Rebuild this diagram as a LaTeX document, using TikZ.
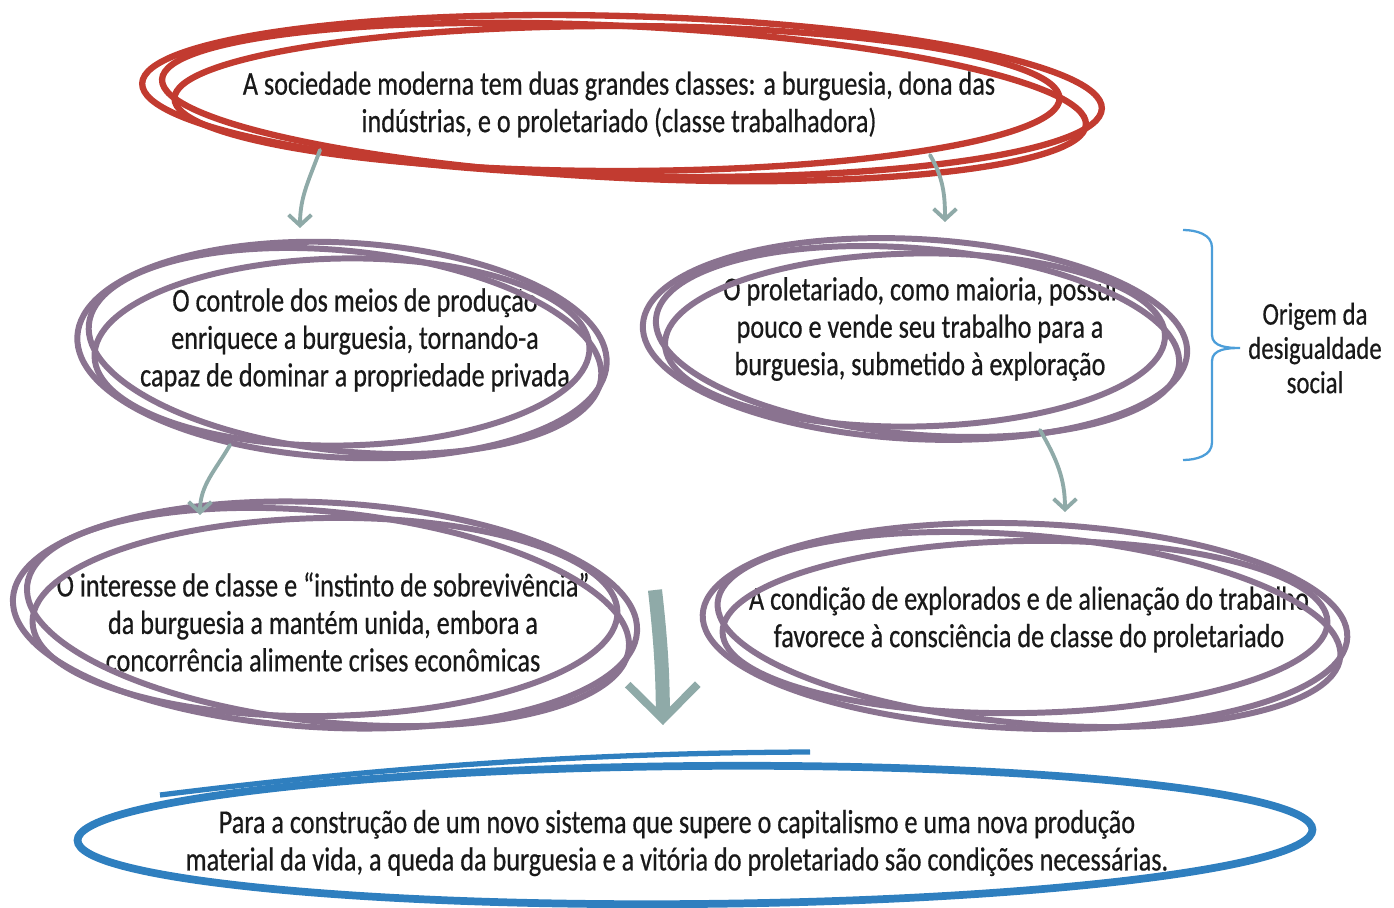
\documentclass[tikz,border=0pt]{standalone}
\usepackage{fontspec}
\setmainfont{Carlito}[FakeStretch=0.785, FakeBold=0.5]
\usetikzlibrary{calc, arrows.meta}
\definecolor{ringred}{HTML}{C23B30}
\definecolor{ringpurple}{HTML}{8A7390}
\definecolor{ringblue}{HTML}{2F7FBF}
\definecolor{flowgray}{HTML}{8FAAA8}
\definecolor{bracecol}{HTML}{4C9ED9}

\begin{document}
\begin{tikzpicture}[
		txt/.style={align=center, font=\fontsize{19}{21.3}\selectfont, text=black!90},
		redring/.style={draw=ringred, line width=3.6pt},
		purpring/.style={draw=ringpurple, line width=3.4pt},
		bluering/.style={draw=ringblue, line width=4.4pt},
		flow/.style={draw=flowgray, line width=2.2pt, line cap=round, -{Straight Barb[length=6pt, width=13pt]}},
		bigflow/.style={draw=flowgray, line width=8pt, -{Straight Barb[length=0.7cm, width=1.4cm, line width=4.5pt]}}
	]
		\useasboundingbox (0,0) rectangle (27.88,-18.16);

		% the bubbles
		\node[txt] (top) at (12.38,-2.09) {A sociedade moderna tem duas grandes classes: a burguesia, dona das\\indústrias, e o proletariado (classe trabalhadora)};
		\node[txt] (ml) at (7.1,-6.8) {O controle dos meios de produção\\enriquece a burguesia, tornando-a\\capaz de dominar a propriedade privada};
		\node[txt] (mr) at (18.4,-6.58) {O proletariado, como maioria, possui\\pouco e vende seu trabalho para a\\burguesia, submetido à exploração};
		\node[txt] (bl) at (6.46,-12.44) {O interesse de classe e “instinto de sobrevivência”\\da burguesia a mantém unida, embora a\\concorrência alimente crises econômicas};
		\node[txt] (br) at (20.58,-12.39) {A condição de explorados e de alienação do trabalho\\favorece à consciência de classe do proletariado};
		\node[txt] (bot) at (13.54,-16.86) {Para a construção de um novo sistema que supere o capitalismo e uma nova produção\\material da vida, a queda da burguesia e a vitória do proletariado são condições necessárias.};
		\node[txt, font=\fontsize{18}{19.5}\selectfont] (origem) at (26.3,-6.96) {Origem da\\desigualdade\\social};

		% hand drawn rings
		\draw[redring] ($(top)+(0.06,0.17)$) ellipse [x radius=9.6, y radius=1.6, rotate=-1.5];
		\draw[redring] ($(top)+(-0.04,0.12)$) ellipse [x radius=8.85, y radius=1.45, rotate=0];
		\draw[redring] ($(top)+(0.1,0.05)$) ellipse [x radius=9.25, y radius=1.52, rotate=-2.8];

		\draw[purpring] ($(ml)+(-0.26,-0.2)$) ellipse [x radius=5.3, y radius=2.15, rotate=-3];
		\draw[purpring] ($(ml)+(-0.26,-0.24)$) ellipse [x radius=4.95, y radius=1.87, rotate=1];
		\draw[purpring] ($(ml)+(-0.2,-0.22)$) ellipse [x radius=5.15, y radius=2.0, rotate=-6];

		\draw[purpring] ($(mr)+(-0.1,-0.2)$) ellipse [x radius=5.45, y radius=2.0, rotate=-3];
		\draw[purpring] ($(mr)+(-0.1,-0.22)$) ellipse [x radius=5.0, y radius=1.73, rotate=1];
		\draw[purpring] ($(mr)+(-0.05,-0.25)$) ellipse [x radius=5.25, y radius=1.86, rotate=-5];

		\draw[purpring] ($(bl)+(0.04,0.14)$) ellipse [x radius=6.25, y radius=2.25, rotate=-3];
		\draw[purpring] ($(bl)+(0.04,0.1)$) ellipse [x radius=5.85, y radius=1.98, rotate=1];
		\draw[purpring] ($(bl)+(0.1,0.1)$) ellipse [x radius=6.05, y radius=2.1, rotate=-6];

		\draw[purpring] ($(br)+(-0.08,-0.13)$) ellipse [x radius=6.45, y radius=2.05, rotate=-2];
		\draw[purpring] ($(br)+(-0.08,-0.15)$) ellipse [x radius=6.05, y radius=1.72, rotate=1];
		\draw[purpring] ($(br)+(0,-0.2)$) ellipse [x radius=6.25, y radius=1.88, rotate=-5];

		\draw[bluering] ($(bot)+(0.36,0.16)$) ellipse [x radius=12.35, y radius=1.38, rotate=0.5];
		\draw[bluering, line width=3pt] ($(bot)+(-10.34,0.96)$) .. controls ($(bot)+(-6,1.5)$) and ($(bot)+(-2,1.8)$) .. ($(bot)+(2.66,1.82)$);

		% flows
		\draw[flow] ($(top)+(-5.98,-0.91)$) to[out=250, in=90] ($(ml)+(-1.1,2.24)$);
		\draw[flow] ($(top)+(6.22,-1.01)$) to[out=-60, in=90] ($(mr)+(0.5,2.14)$);
		\draw[flow] ($(ml)+(-2.5,-2.1)$) to[out=240, in=90] ($(bl)+(-2.46,2.14)$);
		\draw[flow] ($(mr)+(2.4,-2.02)$) to[out=-60, in=90] ($(br)+(0.72,2.15)$);
		\draw[bigflow] ($(bl)+(6.64,0.64)$) to[bend left=3] ($(bot)+(-0.28,2.36)$);

		% brace
		\coordinate (b1) at (23.66,-4.6);
		\coordinate (b2) at (23.66,-9.2);
		\coordinate (tip) at (24.8,-6.96);
		\draw[bracecol, line width=1.3pt] (b1) to[out=0, in=90] (24.24,-4.95) -- (24.24,-6.7)
			to[out=-90, in=180] (tip) to[out=180, in=90] (24.24,-7.22) -- (24.24,-8.85) to[out=-90, in=0] (b2);
	\end{tikzpicture}
\end{document}
